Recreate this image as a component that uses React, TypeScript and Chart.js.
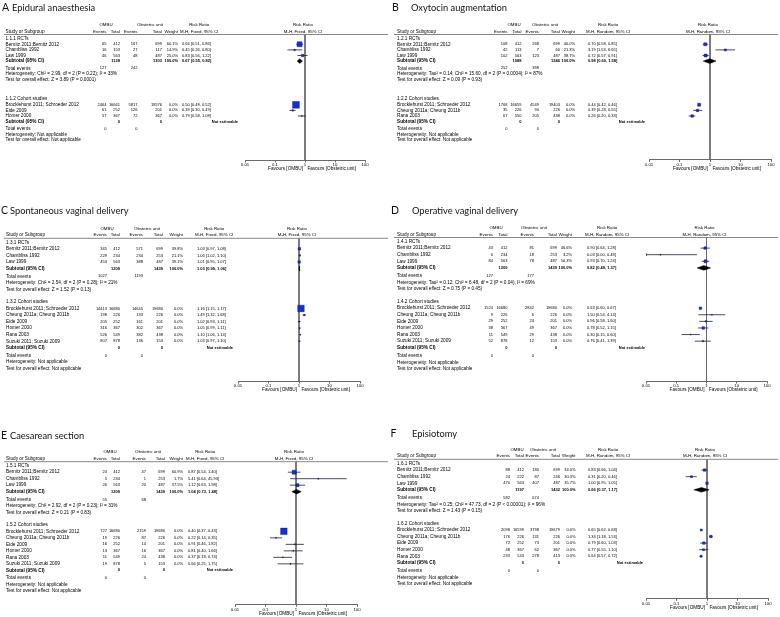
import React, { useEffect, useRef } from "react";
import { Chart, registerables } from "chart.js";

Chart.register(...registerables);

// ---------------- data ----------------
const X_TICKS = [0.01, 0.1, 1, 10, 100];
const X_TICK_LABELS = ["0.01", "0.1", "1", "10", "100"];

const RCT_NAMES = ["Bernitz 2011;Bernitz 2012", "Chambliss 1992", "Law 1999"];
const COH_A = ["Brocklehurst 2011; Schroeder 2012", "Eide 2009", "Homer 2000"];
const COH_B = ["Brocklehurst 2011; Schroeder 2012", "Cheung 2011a; Cheung 2011b", "Rana 2003"];
const COH_6 = ["Brocklehurst 2011; Schroeder 2012", "Cheung 2011a; Cheung 2011b", "Eide 2009", "Homer 2000", "Rana 2003", "Suzuki 2011; Suzuki 2009"];
const COH_5 = ["Brocklehurst 2011; Schroeder 2012", "Cheung 2011a; Cheung 2011b", "Eide 2009", "Homer 2000", "Rana 2003"];

// A  Epidural anaesthesia
const A_RCT_OMBU = [[65, 412], [16, 153], [46, 563]];
const A_RCT_OU = [[167, 699], [27, 117], [48, 487]];
const A_RCT_W = [60.1, 14.9, 25.0];
const A_RCT_RR = [[0.66, 0.51, 0.86], [0.45, 0.26, 0.80], [0.83, 0.56, 1.22]];
const A_POOLED = [0.67, 0.55, 0.82];
const A_HET = "Heterogeneity: Chi\u00b2 = 2.99, df = 2 (P = 0.22); I\u00b2 = 33%";
const A_Z = "Test for overall effect: Z = 3.89 (P = 0.0001)";
const A_COH_OMBU = [[2464, 16661], [61, 252], [57, 367]];
const A_COH_OU = [[5817, 19576], [126, 201], [72, 367]];
const A_COH_RR = [[0.50, 0.48, 0.52], [0.39, 0.30, 0.49], [0.79, 0.58, 1.08]];

// B  Oxytocin augmentation
const B_RCT_OMBU = [[108, 412], [42, 113], [102, 563]];
const B_RCT_OU = [[268, 699], [7, 60], [123, 487]];
const B_RCT_W = [40.0, 21.3, 38.7];
const B_RCT_RR = [[0.70, 0.58, 0.85], [3.19, 1.53, 6.65], [0.72, 0.57, 0.91]];
const B_POOLED = [0.98, 0.60, 1.58];
const B_HET = "Heterogeneity: Tau\u00b2 = 0.14; Chi\u00b2 = 15.60, df = 2 (P = 0.0004); I\u00b2 = 87%";
const B_Z = "Test for overall effect: Z = 0.09 (P = 0.93)";
const B_COH_OMBU = [[1708, 16659], [35, 226], [67, 550]];
const B_COH_OU = [[4549, 19403], [90, 226], [205, 438]];
const B_COH_RR = [[0.44, 0.42, 0.46], [0.39, 0.28, 0.55], [0.26, 0.20, 0.33]];

// C  Spontaneous vaginal delivery
const C_RCT_OMBU = [[345, 412], [229, 234], [453, 563]];
const C_RCT_OU = [[571, 699], [234, 253], [388, 487]];
const C_RCT_W = [39.8, 21.1, 39.1];
const C_RCT_RR = [[1.03, 0.97, 1.08], [1.06, 1.02, 1.10], [1.01, 0.95, 1.07]];
const C_POOLED = [1.03, 0.99, 1.06];
const C_HET = "Heterogeneity: Chi\u00b2 = 2.54, df = 2 (P = 0.28); I\u00b2 = 21%";
const C_Z = "Test for overall effect: Z = 1.52 (P = 0.13)";
const C_COH_OMBU = [[14413, 16680], [198, 226], [205, 252], [316, 367], [526, 549], [807, 878]];
const C_COH_OU = [[14645, 19680], [133, 226], [161, 201], [302, 367], [382, 438], [136, 153]];
const C_COH_RR = [[1.16, 1.15, 1.17], [1.49, 1.32, 1.68], [1.02, 0.93, 1.11], [1.05, 0.99, 1.11], [1.10, 1.06, 1.14], [1.03, 0.97, 1.10]];

// D  Operative vaginal delivery
const D_RCT_OMBU = [[43, 412], [0, 234], [84, 563]];
const D_RCT_OU = [[81, 699], [18, 253], [78, 487]];
const D_RCT_W = [46.6, 3.2, 50.3];
const D_RCT_RR = [[0.90, 0.64, 1.28], [0.03, 0.00, 0.48], [0.93, 0.70, 1.24]];
const D_POOLED = [0.82, 0.49, 1.37];
const D_HET = "Heterogeneity: Tau\u00b2 = 0.12; Chi\u00b2 = 6.48, df = 2 (P = 0.04); I\u00b2 = 69%";
const D_Z = "Test for overall effect: Z = 0.75 (P = 0.45)";
const D_COH_OMBU = [[1524, 16680], [9, 226], [29, 252], [38, 367], [11, 549], [52, 878]];
const D_COH_OU = [[2842, 19680], [6, 226], [24, 201], [49, 367], [29, 438], [12, 153]];
const D_COH_RR = [[0.63, 0.60, 0.67], [1.50, 0.54, 4.14], [0.96, 0.58, 1.60], [0.78, 0.52, 1.15], [0.30, 0.15, 0.60], [0.76, 0.41, 1.39]];

// E  Caesarean section
const E_RCT_OMBU = [[24, 412], [5, 234], [26, 563]];
const E_RCT_OU = [[47, 699], [1, 253], [20, 487]];
const E_RCT_W = [60.9, 1.7, 37.5];
const E_RCT_RR = [[0.87, 0.54, 1.40], [5.41, 0.64, 45.93], [1.12, 0.63, 1.98]];
const E_POOLED = [1.04, 0.73, 1.48];
const E_HET = "Heterogeneity: Chi\u00b2 = 2.92, df = 2 (P = 0.23); I\u00b2 = 31%";
const E_Z = "Test for overall effect: Z = 0.21 (P = 0.83)";
const E_COH_OMBU = [[727, 16680], [19, 226], [16, 252], [13, 367], [11, 549], [19, 878]];
const E_COH_OU = [[2159, 19680], [87, 226], [14, 201], [16, 367], [24, 438], [5, 153]];
const E_COH_RR = [[0.40, 0.37, 0.43], [0.22, 0.14, 0.35], [0.91, 0.46, 1.82], [0.81, 0.40, 1.66], [0.37, 0.18, 0.74], [0.66, 0.25, 1.75]];

// F  Episiotomy
const F_RCT_OMBU = [[88, 412], [24, 222], [470, 563]];
const F_RCT_OU = [[180, 699], [87, 246], [407, 487]];
const F_RCT_W = [34.0, 30.3, 35.7];
const F_RCT_RR = [[0.83, 0.66, 1.04], [0.31, 0.20, 0.46], [1.00, 0.95, 1.05]];
const F_POOLED = [0.66, 0.37, 1.17];
const F_HET = "Heterogeneity: Tau\u00b2 = 0.25; Chi\u00b2 = 47.73, df = 2 (P < 0.00001); I\u00b2 = 96%";
const F_Z = "Test for overall effect: Z = 1.43 (P = 0.15)";
const F_COH_OMBU = [[2098, 16599], [176, 226], [72, 252], [48, 367], [233, 543]];
const F_COH_OU = [[3798, 19679], [131, 226], [73, 201], [62, 367], [278, 413]];
const F_COH_RR = [[0.65, 0.62, 0.68], [1.34, 1.18, 1.53], [0.79, 0.60, 1.03], [0.77, 0.55, 1.10], [0.64, 0.57, 0.72]];

// ---------------- styles ----------------
const A_RCT_BOX = [5, 1.5, 2.5];
const A_COH_BOX = [6.8, 1.5, 1];
const B_RCT_BOX = [3, 2, 3];
const B_COH_BOX = [3, 2.5, 2.5];
const C_RCT_BOX = [2.5, 1.5, 2.5];
const C_COH_BOX = [6.5, 1.5, 1, 1, 1, 1];
const D_RCT_BOX = [2.5, 1, 3];
const D_COH_BOX = [2.5, 1, 1.5, 2.5, 1, 1.5];
const E_RCT_BOX = [4, 1, 3];
const E_COH_BOX = [6.5, 1, 1, 1, 1, 1];
const F_RCT_BOX = [2.5, 2, 2.5];
const F_COH_BOX = [2, 2.5, 2.5, 2, 2];

const PANEL_W = 390;
const LABEL_FS = 4.7;
const NUM_FS = 4.0;
const HEAD_FS = 4.4;
const FONT = '"Liberation Sans", Arial, sans-serif';
const TITLE_FONT = 'Lato, "Open Sans", sans-serif';
const TEXT_COLOR = "#000000";
const BOX_FILL = "#1530cc";
const BOX_EDGE = "#0a0a70";
const CI_COLOR = "#20203a";
const REF_COLOR = "#6a6a6a";
const RULE_COLOR = "#6a6a6a";
const X_MIN = 0.01;
const X_MAX = 100;
const X_AXIS_H = 12;
const DIAMOND_HALF_PX = 2.3;

type Cols = { name: number; e1: number; t1: number; e2: number; t2: number; w: number; rr: number; na: number; om: number; ob: number };

type Panel = {
  letter: string; title: string; sec: string; model: string;
  left: number; top: number; height: number;
  letterX: number; titleX: number; titleBase: number;
  ruleY: number; row0: number; pitch: number; cohIdx: number; totGap: number;
  axisY: number; axisL: number; axisR: number;
  cols: Cols;
  rctOmbu: number[][]; rctOu: number[][]; rctW: number[]; rctRR: number[][]; pooled: number[]; het: string; z: string;
  cohNames: string[]; cohOmbu: number[][]; cohOu: number[][]; cohRR: number[][];
  rctBox: number[]; cohBox: number[];
};

const PANELS: Panel[] = [
  {
    letter: "A", title: "Epidural anaesthesia", sec: "1.1", model: "Fixed",
    left: 0, top: 0, height: 205, letterX: 2, titleX: 12, titleBase: 10.8,
    ruleY: 34.5, row0: 38.7, pitch: 5.6, cohIdx: 10.8, totGap: 1.3, axisY: 160, axisL: 245, axisR: 365,
    cols: { name: 5.5, e1: 106.5, t1: 120, e2: 137.5, t2: 162, w: 178, rr: 182, na: 238, om: 106, ob: 150 },
    rctOmbu: A_RCT_OMBU, rctOu: A_RCT_OU, rctW: A_RCT_W, rctRR: A_RCT_RR, pooled: A_POOLED, het: A_HET, z: A_Z,
    cohNames: COH_A, cohOmbu: A_COH_OMBU, cohOu: A_COH_OU, cohRR: A_COH_RR, rctBox: A_RCT_BOX, cohBox: A_COH_BOX,
  },
  {
    letter: "B", title: "Oxytocin augmentation", sec: "1.2", model: "Random",
    left: 390, top: 0, height: 205, letterX: 2, titleX: 21, titleBase: 10.8,
    ruleY: 34.5, row0: 38.7, pitch: 5.6, cohIdx: 10.8, totGap: 1.3, axisY: 159.5, axisL: 259, axisR: 381,
    cols: { name: 7, e1: 117.5, t1: 131.5, e2: 149, t2: 170, w: 185, rr: 198, na: 255, om: 124, ob: 155 },
    rctOmbu: B_RCT_OMBU, rctOu: B_RCT_OU, rctW: B_RCT_W, rctRR: B_RCT_RR, pooled: B_POOLED, het: B_HET, z: B_Z,
    cohNames: COH_B, cohOmbu: B_COH_OMBU, cohOu: B_COH_OU, cohRR: B_COH_RR, rctBox: B_RCT_BOX, cohBox: B_COH_BOX,
  },
  {
    letter: "C", title: "Spontaneous vaginal delivery", sec: "1.3", model: "Fixed",
    left: 0, top: 205, height: 205, letterX: 1, titleX: 10, titleBase: 8.5,
    ruleY: 33.3, row0: 37.3, pitch: 6.55, cohIdx: 9.1, totGap: 1.2, axisY: 176, axisL: 238, axisR: 360,
    cols: { name: 6, e1: 107, t1: 120, e2: 143, t2: 163, w: 183, rr: 197, na: 233, om: 107, ob: 147 },
    rctOmbu: C_RCT_OMBU, rctOu: C_RCT_OU, rctW: C_RCT_W, rctRR: C_RCT_RR, pooled: C_POOLED, het: C_HET, z: C_Z,
    cohNames: COH_6, cohOmbu: C_COH_OMBU, cohOu: C_COH_OU, cohRR: C_COH_RR, rctBox: C_RCT_BOX, cohBox: C_COH_BOX,
  },
  {
    letter: "D", title: "Operative vaginal delivery", sec: "1.4", model: "Random",
    left: 390, top: 205, height: 205, letterX: 1, titleX: 22, titleBase: 8.5,
    ruleY: 32.5, row0: 36.5, pitch: 6.6, cohIdx: 9.1, totGap: 1.2, axisY: 176, axisL: 256, axisR: 377,
    cols: { name: 7, e1: 103, t1: 117.5, e2: 144, t2: 167, w: 182, rr: 197, na: 255, om: 106, ob: 144 },
    rctOmbu: D_RCT_OMBU, rctOu: D_RCT_OU, rctW: D_RCT_W, rctRR: D_RCT_RR, pooled: D_POOLED, het: D_HET, z: D_Z,
    cohNames: COH_6, cohOmbu: D_COH_OMBU, cohOu: D_COH_OU, cohRR: D_COH_RR, rctBox: D_RCT_BOX, cohBox: D_COH_BOX,
  },
  {
    letter: "E", title: "Caesarean section", sec: "1.5", model: "Fixed",
    left: 0, top: 410, height: 207, letterX: 1, titleX: 10, titleBase: 29.3,
    ruleY: 51.7, row0: 55.7, pitch: 6.5, cohIdx: 9.1, totGap: 1.2, axisY: 194.3, axisL: 235, axisR: 357,
    cols: { name: 6, e1: 107, t1: 120, e2: 146, t2: 165, w: 183, rr: 188, na: 233, om: 110, ob: 148 },
    rctOmbu: E_RCT_OMBU, rctOu: E_RCT_OU, rctW: E_RCT_W, rctRR: E_RCT_RR, pooled: E_POOLED, het: E_HET, z: E_Z,
    cohNames: COH_6, cohOmbu: E_COH_OMBU, cohOu: E_COH_OU, cohRR: E_COH_RR, rctBox: E_RCT_BOX, cohBox: E_COH_BOX,
  },
  {
    letter: "F", title: "Episiotomy", sec: "1.6", model: "Random",
    left: 390, top: 410, height: 207, letterX: 0.5, titleX: 22, titleBase: 26.7,
    ruleY: 49.3, row0: 53.5, pitch: 6.58, cohIdx: 9.1, totGap: 1.2, axisY: 188.3, axisL: 256, axisR: 378,
    cols: { name: 7, e1: 120, t1: 134, e2: 149, t2: 170, w: 185.5, rr: 198, na: 253, om: 127, ob: 153 },
    rctOmbu: F_RCT_OMBU, rctOu: F_RCT_OU, rctW: F_RCT_W, rctRR: F_RCT_RR, pooled: F_POOLED, het: F_HET, z: F_Z,
    cohNames: COH_5, cohOmbu: F_COH_OMBU, cohOu: F_COH_OU, cohRR: F_COH_RR, rctBox: F_RCT_BOX, cohBox: F_COH_BOX,
  },
];

// ---------------- row building ----------------
type Row = {
  idx: number;
  kind: string;
  label: string;
  ombu?: number[];
  ou?: number[];
  w?: string;
  rr?: number[];
  box?: number;
  t1?: string; t2?: string; e1?: string; e2?: string;
};

const f2 = (v: number) => v.toFixed(2);
const rrText = (r: number[]) => `${f2(r[0])} [${f2(r[1])}, ${f2(r[2])}]`;
const sum = (arr: number[][], k: number) => arr.reduce((s, a) => s + a[k], 0);

function buildRows(p: Panel): Row[] {
  const rows: Row[] = [];
  const g = p.totGap;
  rows.push({ idx: 0, kind: "section", label: `${p.sec}.1 RCTs` });
  RCT_NAMES.forEach((n, i) =>
    rows.push({ idx: 1 + i, kind: "study", label: n, ombu: p.rctOmbu[i], ou: p.rctOu[i], w: p.rctW[i].toFixed(1) + "%", rr: p.rctRR[i], box: p.rctBox[i] })
  );
  let n = RCT_NAMES.length;
  rows.push({ idx: n + 1, kind: "subtotal", label: "Subtotal (95% CI)", t1: String(sum(p.rctOmbu, 1)), t2: String(sum(p.rctOu, 1)), w: "100.0%", rr: p.pooled });
  rows.push({ idx: n + 1 + g, kind: "total", label: "Total events", e1: String(sum(p.rctOmbu, 0)), e2: String(sum(p.rctOu, 0)) });
  rows.push({ idx: n + 2 + g, kind: "note", label: p.het });
  rows.push({ idx: n + 3 + g, kind: "note", label: p.z });
  const s = p.cohIdx;
  rows.push({ idx: s, kind: "section", label: `${p.sec}.2 Cohort studies` });
  p.cohNames.forEach((nm, i) =>
    rows.push({ idx: s + 1 + i, kind: "study", label: nm, ombu: p.cohOmbu[i], ou: p.cohOu[i], w: "0.0%", rr: p.cohRR[i], box: p.cohBox[i] })
  );
  n = p.cohNames.length;
  rows.push({ idx: s + n + 1, kind: "subtotalNE", label: "Subtotal (95% CI)", t1: "0", t2: "0" });
  rows.push({ idx: s + n + 1 + g, kind: "total", label: "Total events", e1: "0", e2: "0" });
  rows.push({ idx: s + n + 2 + g, kind: "note", label: "Heterogeneity: Not applicable" });
  rows.push({ idx: s + n + 3 + g, kind: "note", label: "Test for overall effect: Not applicable" });
  return rows;
}

// ---------------- chart config ----------------
function makeConfig(p: Panel): any {
  const rows = buildRows(p);
  const yMin = (p.ruleY - p.row0) / p.pitch;
  const yMax = (p.axisY - p.row0) / p.pitch;
  const studies = rows.filter((r) => r.kind === "study");
  const subtotals = rows.filter((r) => r.kind === "subtotal");
  const dh = DIAMOND_HALF_PX / p.pitch;

  const datasets: any[] = [];
  datasets.push({
    type: "scatter", showLine: true, order: 6,
    data: [{ x: 1, y: yMin }, { x: 1, y: yMax }],
    borderColor: REF_COLOR, borderWidth: 1, pointRadius: 0,
  });
  studies.forEach((r) => {
    const rr = r.rr as number[];
    datasets.push({
      type: "scatter", showLine: true, order: 4,
      data: [{ x: Math.max(rr[1], X_MIN), y: r.idx }, { x: Math.min(rr[2], X_MAX), y: r.idx }],
      borderColor: CI_COLOR, borderWidth: 0.8, pointRadius: 0,
    });
  });
  const arrows = studies.filter((r) => (r.rr as number[])[1] < X_MIN);
  if (arrows.length) {
    datasets.push({
      type: "scatter", order: 3,
      data: arrows.map((r) => ({ x: X_MIN, y: r.idx })),
      pointStyle: "triangle", rotation: -90, pointRadius: 1.6,
      backgroundColor: CI_COLOR, borderColor: CI_COLOR, borderWidth: 0,
    });
  }
  datasets.push({
    type: "scatter", order: 1,
    data: studies.map((r) => ({ x: (r.rr as number[])[0], y: r.idx })),
    pointStyle: "rect",
    pointRadius: studies.map((r) => (r.box as number) / Math.SQRT2),
    backgroundColor: BOX_FILL, borderColor: BOX_EDGE, borderWidth: 0.4,
  });
  subtotals.forEach((r) => {
    const rr = r.rr as number[];
    datasets.push({
      type: "scatter", showLine: true, order: 2, fill: "shape",
      data: [
        { x: rr[1], y: r.idx }, { x: rr[0], y: r.idx - dh }, { x: rr[2], y: r.idx },
        { x: rr[0], y: r.idx + dh }, { x: rr[1], y: r.idx },
      ],
      borderColor: "#000", backgroundColor: "#000", borderWidth: 0.5, pointRadius: 0, tension: 0,
    });
  });

  const c = p.cols;
  const textPlugin = {
    id: "forestText" + p.letter,
    afterDraw(chart: any) {
      const ctx = chart.ctx as CanvasRenderingContext2D;
      const ys = chart.scales.y;
      const xs = chart.scales.x;
      const area = chart.chartArea;
      const x1 = xs.getPixelForValue(1);
      const t = (s: string, x: number, y: number, align: CanvasTextAlign = "left", bold = false, size = LABEL_FS) => {
        ctx.font = `${bold ? "bold " : ""}${size}px ${FONT}`;
        ctx.textAlign = align;
        ctx.textBaseline = "middle";
        ctx.fillStyle = TEXT_COLOR;
        ctx.fillText(s, x, y);
      };
      const num = (s: string, x: number, y: number, align: CanvasTextAlign = "right", bold = false) => t(s, x, y, align, bold, NUM_FS);
      ctx.save();
      // title
      ctx.fillStyle = "#111";
      ctx.textAlign = "left";
      ctx.textBaseline = "alphabetic";
      ctx.font = `10.5px ${TITLE_FONT}`;
      ctx.fillText(p.letter, p.letterX, p.titleBase);
      ctx.font = `9.3px ${TITLE_FONT}`;
      ctx.fillText(p.title, p.titleX, p.titleBase);
      // header rule
      ctx.strokeStyle = RULE_COLOR;
      ctx.lineWidth = 0.8;
      ctx.beginPath();
      ctx.moveTo(4, area.top);
      ctx.lineTo(388, area.top);
      ctx.stroke();
      // headers
      const h1 = area.top - 9.5;
      const h2 = area.top - 3.2;
      const mh = `M-H, ${p.model}, 95% CI`;
      ctx.font = `${HEAD_FS}px ${FONT}`;
      const mhW = ctx.measureText(mh).width;
      t("OMBU", c.om, h1, "center", false, HEAD_FS);
      t("Obstetric unit", c.ob, h1, "center", false, HEAD_FS);
      t("Risk Ratio", c.rr - 2 + mhW / 2, h1, "center", false, HEAD_FS);
      t("Risk Ratio", x1 - 2, h1, "center", false, HEAD_FS);
      t("Study or Subgroup", c.name, h2, "left", false, LABEL_FS);
      t("Events", c.e1, h2, "right", false, HEAD_FS);
      t("Total", c.t1, h2, "right", false, HEAD_FS);
      t("Events", c.e2, h2, "right", false, HEAD_FS);
      t("Total", c.t2, h2, "right", false, HEAD_FS);
      t("Weight", c.w, h2, "right", false, HEAD_FS);
      t(mh, c.rr - 2, h2, "left", false, HEAD_FS);
      t(mh, x1 - 2, h2, "center", false, HEAD_FS);
      // rows
      rows.forEach((r) => {
        const y = ys.getPixelForValue(r.idx);
        if (r.kind === "section" || r.kind === "note") {
          t(r.label, c.name, y);
        } else if (r.kind === "study") {
          const a = r.ombu as number[];
          const b = r.ou as number[];
          t(r.label, c.name, y);
          num(String(a[0]), c.e1, y);
          num(String(a[1]), c.t1, y);
          num(String(b[0]), c.e2, y);
          num(String(b[1]), c.t2, y);
          num(r.w as string, c.w, y);
          num(rrText(r.rr as number[]), c.rr, y, "left");
        } else if (r.kind === "subtotal") {
          t(r.label, c.name, y, "left", true);
          num(r.t1 as string, c.t1, y, "right", true);
          num(r.t2 as string, c.t2, y, "right", true);
          num(r.w as string, c.w, y, "right", true);
          num(rrText(r.rr as number[]), c.rr, y, "left", true);
        } else if (r.kind === "subtotalNE") {
          t(r.label, c.name, y, "left", true);
          num(r.t1 as string, c.t1, y, "right", true);
          num(r.t2 as string, c.t2, y, "right", true);
          num("Not estimable", c.na, y, "right", true);
        } else if (r.kind === "total") {
          t(r.label, c.name, y);
          num(r.e1 as string, c.e1, y);
          num(r.e2 as string, c.e2, y);
        }
      });
      // favours
      const fy = area.bottom + 9;
      t("Favours [OMBU]", x1 - 2, fy, "right");
      t("Favours [Obstetric unit]", x1 + 2.5, fy, "left");
      ctx.restore();
    },
  };

  return {
    type: "scatter",
    data: { datasets },
    plugins: [textPlugin],
    options: {
      animation: false,
      responsive: false,
      devicePixelRatio: 1,
      events: [],
      layout: {
        padding: {
          left: p.axisL,
          right: PANEL_W - p.axisR,
          top: p.ruleY,
          bottom: p.height - p.axisY - X_AXIS_H,
        },
      },
      plugins: { legend: { display: false }, tooltip: { enabled: false }, title: { display: false } },
      scales: {
        x: {
          type: "logarithmic",
          position: "bottom",
          min: X_MIN,
          max: X_MAX,
          afterBuildTicks: (s: any) => {
            s.ticks = X_TICKS.map((v) => ({ value: v }));
          },
          afterFit: (s: any) => {
            s.height = X_AXIS_H;
          },
          ticks: {
            autoSkip: false,
            maxRotation: 0,
            minRotation: 0,
            padding: 0,
            color: TEXT_COLOR,
            font: { size: 4.3, family: FONT },
            callback: (v: any) => {
              const i = X_TICKS.indexOf(Number(v));
              return i >= 0 ? X_TICK_LABELS[i] : "";
            },
          },
          grid: { drawOnChartArea: false, drawTicks: true, tickLength: 2.5, color: "#444", lineWidth: 0.8 },
          border: { display: true, color: "#444", width: 0.8 },
        },
        y: {
          type: "linear",
          display: false,
          reverse: true,
          min: yMin,
          max: yMax,
        },
      },
    },
  };
}

function ForestPanel({ p }: { p: Panel }) {
  const ref = useRef<HTMLCanvasElement>(null);
  useEffect(() => {
    const chart = new Chart(ref.current as HTMLCanvasElement, makeConfig(p));
    return () => chart.destroy();
  }, [p]);
  return (
    <canvas
      ref={ref}
      width={PANEL_W}
      height={p.height}
      style={{ position: "absolute", left: p.left, top: p.top, width: PANEL_W, height: p.height, display: "block" }}
    />
  );
}

export default function App() {
  return (
    <div style={{ position: "fixed", left: 0, top: 0, width: 780, height: 617, background: "#ffffff", overflow: "hidden" }}>
      {PANELS.map((p) => (
        <ForestPanel key={p.letter} p={p} />
      ))}
    </div>
  );
}
